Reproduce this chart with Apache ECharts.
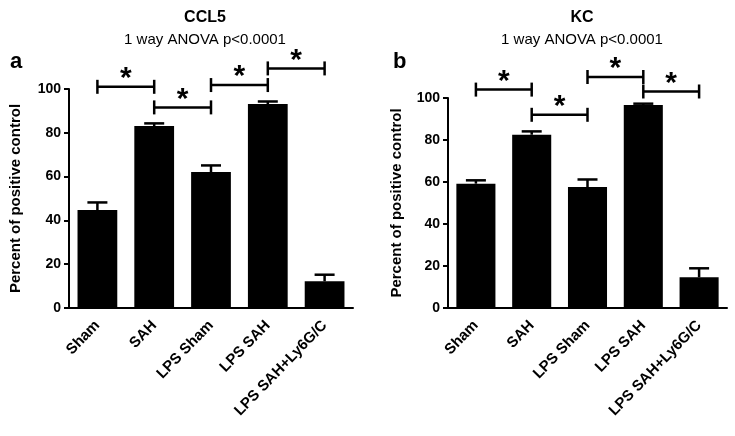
<!DOCTYPE html>
<html><head><meta charset="utf-8">
<script src="https://cdn.jsdelivr.net/npm/echarts@6/dist/echarts.min.js"></script>
<style>html,body{margin:0;padding:0;background:#fff}#c{width:735px;height:436px}</style>
</head><body><div id="c"></div>
<script>
const categories = ['Sham', 'SAH', 'LPS Sham', 'LPS SAH', 'LPS SAH+Ly6G/C'];
const ccl5Means = [44.7, 83.1, 62.1, 93.1, 12.2];
const ccl5Sem = [3.5, 1.2, 3.0, 1.2, 3.0];
const kcMeans = [59.2, 82.5, 57.6, 96.7, 14.6];
const kcSem = [1.6, 1.6, 3.6, 0.6, 4.3];
// [from category, to category, bracket height]
const ccl5Brackets = [[0, 1, 101], [1, 2, 91.6], [2, 3, 101.8], [3, 4, 109.4]];
const kcBrackets = [[0, 1, 104], [1, 2, 92], [2, 3, 110], [3, 4, 103.1]];
const yTicks = {min: 0, max: 100, interval: 20};

const FONT = 'Liberation Sans, Arial, sans-serif';
const chart = echarts.init(document.getElementById('c'));

function errData(means, sem) { return means.map((m, i) => [i, m, m + sem[i]]); }

function xAxisCfg(gi) {
  return {
    type: 'category', gridIndex: gi, data: categories,
    axisLine: {lineStyle: {color: '#000', width: 2}},
    axisTick: {alignWithLabel: true, length: 5, lineStyle: {color: '#000', width: 2}},
    axisLabel: {rotate: 46, color: '#000', fontWeight: 'bold', fontSize: 15, fontFamily: FONT, margin: 15, interval: 0}
  };
}
function yAxisCfg(gi, gap) {
  return {
    type: 'value', gridIndex: gi, min: yTicks.min, max: yTicks.max, interval: yTicks.interval,
    name: 'Percent of positive control', nameLocation: 'middle', nameGap: gap,
    nameTextStyle: {color: '#000', fontWeight: 'bold', fontSize: 15, fontFamily: FONT},
    axisLine: {show: true, lineStyle: {color: '#000', width: 2}},
    axisTick: {show: true, length: 5, lineStyle: {color: '#000', width: 2}},
    axisLabel: {color: '#000', fontWeight: 'bold', fontSize: 14, fontFamily: FONT, margin: 8},
    splitLine: {show: false}
  };
}
function barSeries(gi, means) {
  return {type: 'bar', xAxisIndex: gi, yAxisIndex: gi, data: means, barWidth: '70%',
    itemStyle: {color: '#000'}, silent: true, z: 2};
}
function errSeries(gi, means, sem) {
  return {
    type: 'custom', xAxisIndex: gi, yAxisIndex: gi, data: errData(means, sem), z: 3, silent: true,
    encode: {x: 0, y: [1, 2]},
    renderItem(params, api) {
      const p1 = api.coord([api.value(0), api.value(1)]);
      const p2 = api.coord([api.value(0), api.value(2)]);
      const s = {stroke: '#000', lineWidth: 2.5};
      return {type: 'group', children: [
        {type: 'line', shape: {x1: p1[0], y1: p1[1], x2: p2[0], y2: p2[1]}, style: s},
        {type: 'line', shape: {x1: p2[0] - 10, y1: p2[1], x2: p2[0] + 10, y2: p2[1]}, style: s}
      ]};
    }
  };
}
function bracketSeries(gi, brackets) {
  return {
    type: 'custom', xAxisIndex: gi, yAxisIndex: gi, data: brackets, z: 4, silent: true, clip: false,
    encode: {x: [0, 1], y: 2},
    renderItem(params, api) {
      const a = api.coord([api.value(0), api.value(2)]);
      const b = api.coord([api.value(1), api.value(2)]);
      const s = {stroke: '#000', lineWidth: 2.5};
      return {type: 'group', children: [
        {type: 'line', shape: {x1: a[0], y1: a[1], x2: b[0], y2: b[1]}, style: s},
        {type: 'line', shape: {x1: a[0], y1: a[1] - 7, x2: a[0], y2: a[1] + 7}, style: s},
        {type: 'line', shape: {x1: b[0], y1: b[1] - 7, x2: b[0], y2: b[1] + 7}, style: s},
        {type: 'text', style: {text: '*', x: (a[0] + b[0]) / 2, y: a[1] - 8, align: 'center',
          verticalAlign: 'middle', font: 'bold 30px ' + FONT, fill: '#000'}}
      ]};
    }
  };
}

chart.setOption({
  animation: false,
  backgroundColor: '#fff',
  title: [
    {text: 'CCL5', left: 200, top: 5, textAlign: 'center',
      textStyle: {fontSize: 16, fontWeight: 'bold', color: '#000', fontFamily: FONT}},
    {text: '1 way ANOVA p<0.0001', left: 200, top: 27, textAlign: 'center',
      textStyle: {fontSize: 15, fontWeight: 'normal', color: '#000', fontFamily: FONT}},
    {text: 'a', left: 5, top: 46,
      textStyle: {fontSize: 22, fontWeight: 'bold', color: '#000', fontFamily: FONT}},
    {text: 'KC', left: 577, top: 5, textAlign: 'center',
      textStyle: {fontSize: 16, fontWeight: 'bold', color: '#000', fontFamily: FONT}},
    {text: '1 way ANOVA p<0.0001', left: 577, top: 27, textAlign: 'center',
      textStyle: {fontSize: 15, fontWeight: 'normal', color: '#000', fontFamily: FONT}},
    {text: 'b', left: 388, top: 46,
      textStyle: {fontSize: 22, fontWeight: 'bold', color: '#000', fontFamily: FONT}}
  ],
  grid: [
    {left: 69, right: 382, top: 89, bottom: 128},
    {left: 448, right: 8, top: 98, bottom: 128}
  ],
  xAxis: [xAxisCfg(0), xAxisCfg(1)],
  yAxis: [yAxisCfg(0, 46), yAxisCfg(1, 44)],
  series: [
    barSeries(0, ccl5Means), errSeries(0, ccl5Means, ccl5Sem), bracketSeries(0, ccl5Brackets),
    barSeries(1, kcMeans), errSeries(1, kcMeans, kcSem), bracketSeries(1, kcBrackets)
  ]
});
</script></body></html>
